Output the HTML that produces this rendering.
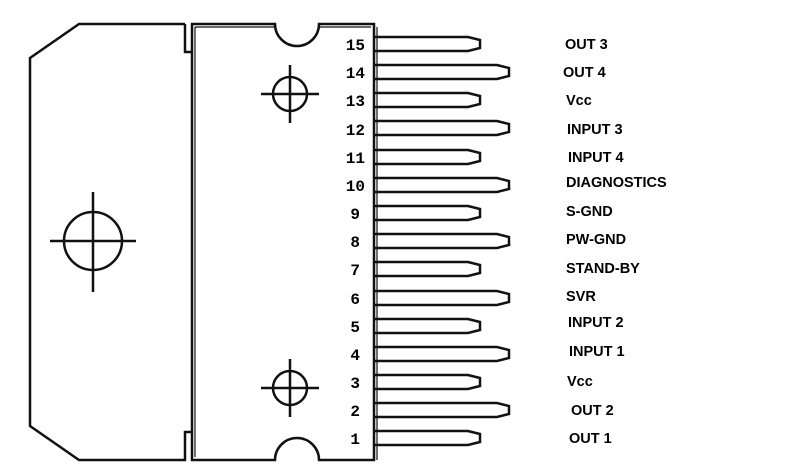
<!DOCTYPE html>
<html><head><style>
html,body{margin:0;padding:0;background:#fff;width:805px;height:472px;overflow:hidden}
svg text{font-family:"Liberation Sans",Arial,sans-serif;font-weight:bold;font-size:14.5px;fill:#000}
.n{font-family:"Liberation Mono",monospace;font-size:16px;text-anchor:end;font-size:16px}
</style></head><body>
<svg width="805" height="472" viewBox="0 0 805 472" xmlns="http://www.w3.org/2000/svg">
<g fill="none" stroke="#111" stroke-width="2.5">
<path d="M185,24 H79 L30,58 V426 L79,460 H185 V432 H191"/>
<path d="M185,24 V52 H191"/>
<path d="M192,24 V460 H275 A22,22 0 0 1 319,460 H374 V24 H319 A22,22 0 0 1 275,24 Z"/>
<path d="M195,27 V457" stroke-width="1.2"/>
<path d="M195,27 H275" stroke-width="1.2"/>
<path d="M319,27 H371" stroke-width="1.2"/>
<path d="M377,27 V460" stroke-width="1.2"/>
<circle cx="290" cy="94" r="17"/><path d="M261,94 H319 M290,65 V123"/>
<circle cx="290" cy="388" r="17"/><path d="M261,388 H319 M290,359 V417"/>
<circle cx="93" cy="241" r="29"/><path d="M50,241 H136 M93,192 V292"/>
</g>
<text x="565" y="49">OUT 3</text>
<text x="563" y="77">OUT 4</text>
<text x="566" y="105">Vcc</text>
<text x="567" y="134">INPUT 3</text>
<text x="568" y="162">INPUT 4</text>
<text x="566" y="187">DIAGNOSTICS</text>
<text x="566" y="216">S-GND</text>
<text x="566" y="244">PW-GND</text>
<text x="566" y="273">STAND-BY</text>
<text x="566" y="301">SVR</text>
<text x="568" y="327">INPUT 2</text>
<text x="569" y="356">INPUT 1</text>
<text x="567" y="386">Vcc</text>
<text x="571" y="415">OUT 2</text>
<text x="569" y="443">OUT 1</text>
<g fill="none" stroke="#111" stroke-width="2.5">
<path d="M375,37 H468 L480,40 V48 L468,51 H375"/>
<path d="M375,65 H497 L509,68 V76 L497,79 H375"/>
<path d="M375,93 H468 L480,96 V104 L468,107 H375"/>
<path d="M375,121 H497 L509,124 V132 L497,135 H375"/>
<path d="M375,150 H468 L480,153 V161 L468,164 H375"/>
<path d="M375,178 H497 L509,181 V189 L497,192 H375"/>
<path d="M375,206 H468 L480,209 V217 L468,220 H375"/>
<path d="M375,234 H497 L509,237 V245 L497,248 H375"/>
<path d="M375,262 H468 L480,265 V273 L468,276 H375"/>
<path d="M375,291 H497 L509,294 V302 L497,305 H375"/>
<path d="M375,319 H468 L480,322 V330 L468,333 H375"/>
<path d="M375,347 H497 L509,350 V358 L497,361 H375"/>
<path d="M375,375 H468 L480,378 V386 L468,389 H375"/>
<path d="M375,403 H497 L509,406 V414 L497,417 H375"/>
<path d="M375,431 H468 L480,434 V442 L468,445 H375"/>
</g>
<text class="n" x="365" y="50">15</text>
<text class="n" x="365" y="78">14</text>
<text class="n" x="365" y="106">13</text>
<text class="n" x="365" y="135">12</text>
<text class="n" x="365" y="163">11</text>
<text class="n" x="365" y="191">10</text>
<text class="n" x="360" y="219">9</text>
<text class="n" x="360" y="247">8</text>
<text class="n" x="360" y="275">7</text>
<text class="n" x="360" y="304">6</text>
<text class="n" x="360" y="332">5</text>
<text class="n" x="360" y="360">4</text>
<text class="n" x="360" y="388">3</text>
<text class="n" x="360" y="416">2</text>
<text class="n" x="360" y="444">1</text>
</svg>
</body></html>
